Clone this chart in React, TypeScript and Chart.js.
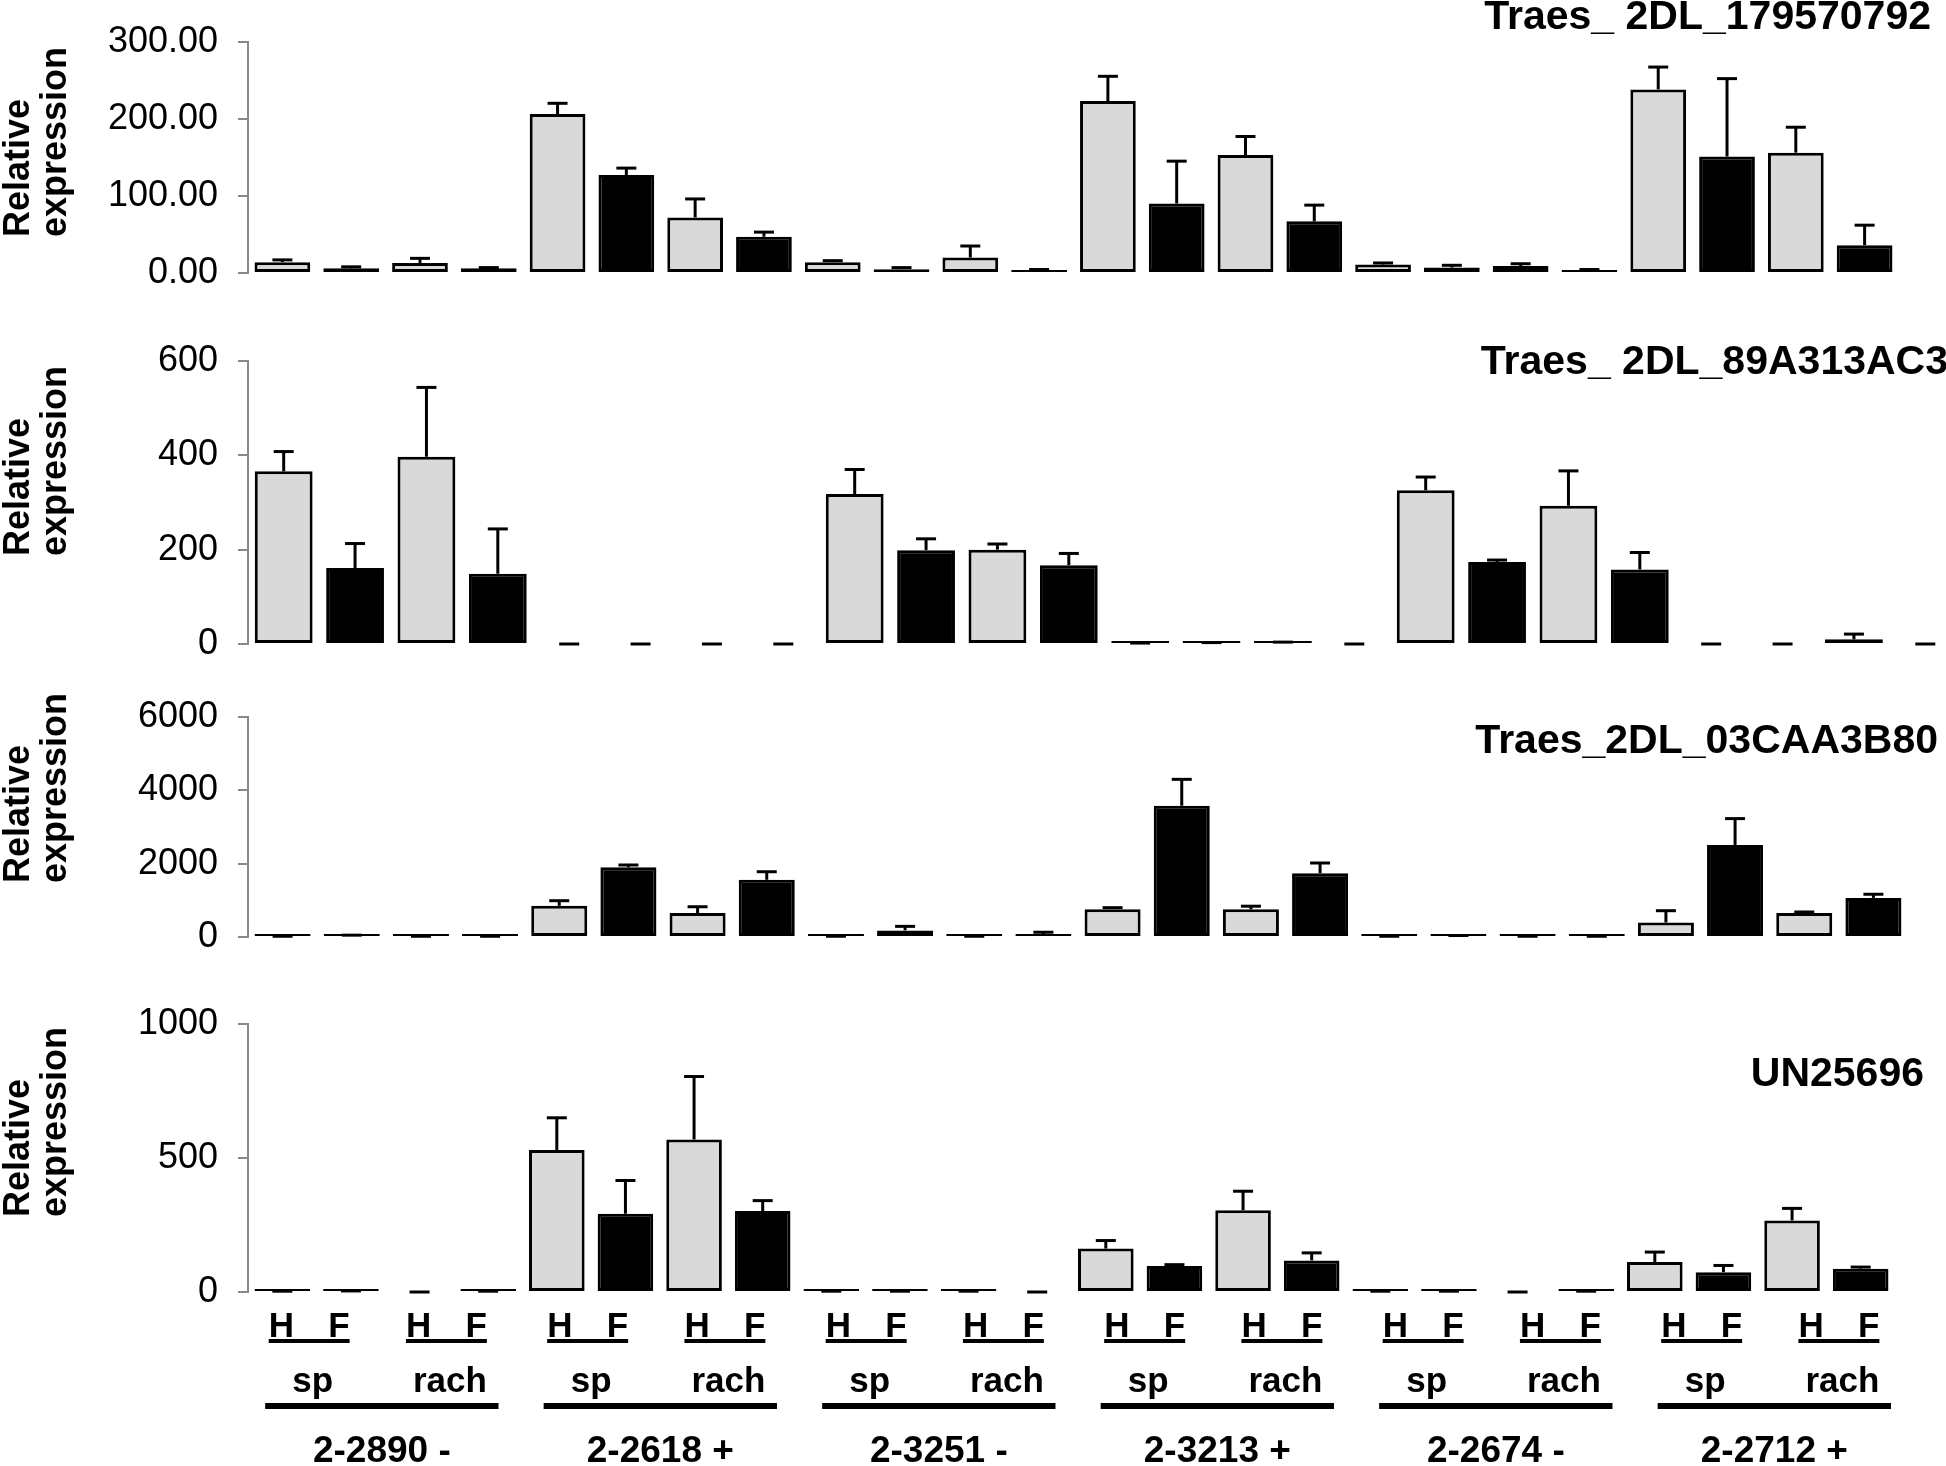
import React, { useEffect, useRef } from "react";
import { Chart, registerables } from "chart.js";

Chart.register(...registerables);

// ---------- data ----------
const samples = ["2-2890 -", "2-2618 +", "2-3251 -", "2-3213 +", "2-2674 -", "2-2712 +"];
const tissues = ["sp", "rach"];
const conditions = ["H", "F"];
const categories = samples.flatMap((s) => tissues.flatMap((t) => conditions.map((c) => `${s} ${t} ${c}`)));

const gene1Title = "Traes_ 2DL_179570792";
const gene1Mean = [14, 6, 13, 6, 206, 127, 72, 47, 14, 5, 20, 3, 223, 90, 153, 67, 11, 7, 9, 4, 238, 151, 156, 36];
const gene1Sd = [3, 2, 6, 1, 14, 9, 24, 6, 2, 2, 15, 1.5, 32, 55, 24, 21, 2, 3, 3, 0.5, 29, 101, 33, 26];
const gene1Ticks = [0, 100, 200, 300];

const gene2Title = "Traes_ 2DL_89A313AC3";
const gene2Mean = [366, 161, 397, 149, 0, 0, 0, 0, 318, 199, 200, 167, 2, 2, 3, 0, 326, 174, 293, 158, 0, 0, 10, 0];
const gene2Sd = [42, 52, 147, 95, 0, 0, 0, 0, 52, 24, 12, 25, 0, 1, 1, 0, 28, 4, 74, 36, 0, 0, 11, 0];
const gene2Ticks = [0, 200, 400, 600];

const gene3Title = "Traes_2DL_03CAA3B80";
const gene3Mean = [20, 40, 20, 20, 850, 1900, 655, 1560, 20, 180, 20, 80, 760, 3580, 755, 1740, 20, 30, 20, 20, 395, 2510, 655, 1067];
const gene3Sd = [0, 10, 0, 0, 140, 64, 170, 220, 0, 110, 0, 50, 40, 720, 85, 278, 0, 10, 0, 0, 322, 719, 27, 99];
const gene3Ticks = [0, 2000, 4000, 6000];

const gene4Title = "UN25696";
const gene4Mean = [3, 3, 0, 3, 530, 292, 569, 302, 3, 3, 3, 0, 162, 97, 305, 118, 3, 3, 0, 3, 112, 74, 267, 87];
const gene4Sd = [0, 1, 0, 0, 120, 124, 235, 39, 0, 0, 0, 0, 30, 5, 71, 28, 0, 0, 0, 0, 37, 25, 45, 6];
const gene4Ticks = [0, 500, 1000];

const yTitleLines = ["Relative", "expression"];

// ---------- style / layout ----------
const PAGE_W = 1946;
const PAGE_H = 1466;
const LIGHT = "#d9d9d9";
const DARK = "#000000";
const AXIS = "#888888";
const FONT = "'Liberation Sans', Arial, sans-serif";

type PanelCfg = {
  title: string;
  mean: number[];
  sd: number[];
  ticks: number[];
  decimals: number;
  top: number;
  bottom: number;
  right: number;
  width: number;
  titleX: number;
  titleY: number;
  yTitleBottom: number;
  showX: boolean;
};

const panels: PanelCfg[] = [
  { title: gene1Title, mean: gene1Mean, sd: gene1Sd, ticks: gene1Ticks, decimals: 2, top: 38, bottom: 273, right: 1899, width: PAGE_W, titleX: 1931, titleY: 29, yTitleBottom: 237, showX: false },
  { title: gene2Title, mean: gene2Mean, sd: gene2Sd, ticks: gene2Ticks, decimals: 0, top: 361, bottom: 644, right: 1961, width: 1961, titleX: 1948, titleY: 374, yTitleBottom: 556, showX: false },
  { title: gene3Title, mean: gene3Mean, sd: gene3Sd, ticks: gene3Ticks, decimals: 0, top: 717, bottom: 937, right: 1908, width: PAGE_W, titleX: 1938, titleY: 753, yTitleBottom: 883, showX: false },
  { title: gene4Title, mean: gene4Mean, sd: gene4Sd, ticks: gene4Ticks, decimals: 0, top: 1024, bottom: 1292, right: 1895, width: PAGE_W, titleX: 1924, titleY: 1086, yTitleBottom: 1217, showX: true },
];

function makeErrorBars(cfg: PanelCfg) {
  return {
    id: "errorBars",
    afterDatasetsDraw(chart: any) {
      const ctx = chart.ctx;
      const xs = chart.scales.x;
      const ys = chart.scales.y;
      ctx.save();
      ctx.strokeStyle = "#000";
      ctx.lineWidth = 3;
      ctx.lineCap = "butt";
      cfg.mean.forEach((m, i) => {
        const x = xs.getPixelForValue(i);
        const y0 = ys.getPixelForValue(m);
        const y1 = ys.getPixelForValue(m + cfg.sd[i]);
        if (cfg.sd[i] > 0) {
          ctx.beginPath();
          ctx.moveTo(x, y0);
          ctx.lineTo(x, y1);
          ctx.stroke();
        }
        ctx.beginPath();
        ctx.moveTo(x - 10, y1);
        ctx.lineTo(x + 10, y1);
        ctx.stroke();
      });
      ctx.restore();
    },
  };
}

function makeTexts(cfg: PanelCfg) {
  return {
    id: "panelTexts",
    afterDraw(chart: any) {
      const ctx = chart.ctx;
      ctx.save();
      ctx.fillStyle = "#000";
      ctx.font = `bold 41px ${FONT}`;
      ctx.textAlign = "right";
      ctx.textBaseline = "alphabetic";
      ctx.fillText(cfg.title, cfg.titleX, cfg.titleY);

      ctx.font = `bold 36px ${FONT}`;
      ctx.textAlign = "left";
      const xs = [29, 66];
      yTitleLines.forEach((line, k) => {
        ctx.save();
        ctx.translate(xs[k], cfg.yTitleBottom);
        ctx.rotate(-Math.PI / 2);
        ctx.fillText(line, 0, 0);
        ctx.restore();
      });

      if (cfg.showX) {
        const xsc = chart.scales.x;
        const px = (i: number) => xsc.getPixelForValue(i);
        const slot = px(1) - px(0);
        ctx.textAlign = "center";
        samples.forEach((s, g) => {
          const drift = g * 4;
          tissues.forEach((t, k) => {
            const a = g * 4 + k * 2;
            const xa = px(a) - 1 + drift;
            const xb = px(a + 1) - 12 + drift;
            ctx.font = `bold 35px ${FONT}`;
            ctx.fillText(conditions[0], xa, 1337);
            ctx.fillText(conditions[1], xb, 1337);
            const wH = ctx.measureText(conditions[0]).width;
            const wF = ctx.measureText(conditions[1]).width;
            ctx.fillRect(xa - wH / 2, 1339, xb + wF / 2 - (xa - wH / 2), 4);
            ctx.font = `bold 35px ${FONT}`;
            ctx.fillText(t, (px(a) + px(a + 1)) / 2 - 4 + drift, 1392);
          });
          const x0 = px(g * 4) - 0.25 * slot + drift;
          const x1 = px(g * 4 + 3) + 0.15 * slot + drift;
          ctx.fillRect(x0, 1403, x1 - x0, 6);
          ctx.font = `bold 37px ${FONT}`;
          ctx.fillText(s, (x0 + x1) / 2, 1462);
        });
      }
      ctx.restore();
    },
  };
}

function Panel({ cfg }: { cfg: PanelCfg }) {
  const ref = useRef<HTMLCanvasElement>(null);
  useEffect(() => {
    const canvas = ref.current!;
    const maxV = cfg.ticks[cfg.ticks.length - 1];
    const step = cfg.ticks[1] - cfg.ticks[0];
    const chart = new Chart(canvas, {
      type: "bar",
      data: {
        labels: categories,
        datasets: [
          {
            data: cfg.mean.map((v) => (v === 0 ? null : v)),
            backgroundColor: categories.map((_, i) => (i % 2 === 0 ? LIGHT : DARK)),
            borderColor: "#000",
            borderWidth: 3,
            borderSkipped: false,
            barPercentage: 0.81,
            categoryPercentage: 1,
            minBarLength: 3,
          } as any,
        ],
      },
      options: {
        responsive: false,
        animation: false,
        events: [],
        devicePixelRatio: 1,
        layout: { padding: { top: cfg.top, bottom: PAGE_H - cfg.bottom, left: 0, right: cfg.width - cfg.right } },
        plugins: { legend: { display: false }, tooltip: { enabled: false }, title: { display: false } },
        scales: {
          x: { display: false },
          y: {
            min: 0,
            max: maxV,
            afterFit: (s: any) => {
              s.width = 248;
            },
            afterBuildTicks: (s: any) => {
              s.ticks = cfg.ticks.map((v) => ({ value: v }));
            },
            ticks: {
              stepSize: step,
              callback: (v: any) => Number(v).toFixed(cfg.decimals),
              font: { family: FONT, size: 36 },
              color: "#000",
              padding: 20,
            },
            grid: { drawOnChartArea: false, drawTicks: true, tickLength: 10, color: AXIS, lineWidth: 2 },
            border: { display: true, color: AXIS, width: 2 },
          },
        },
      } as any,
      plugins: [makeErrorBars(cfg), makeTexts(cfg)],
    });
    return () => chart.destroy();
  }, []);
  return (
    <canvas
      ref={ref}
      width={cfg.width}
      height={PAGE_H}
      style={{ position: "absolute", left: 0, top: 0, width: cfg.width, height: PAGE_H }}
    />
  );
}

export default function App() {
  return (
    <div
      style={{
        position: "absolute",
        left: 0,
        top: 0,
        width: PAGE_W,
        height: PAGE_H,
        overflow: "hidden",
        background: "#fff",
      }}
    >
      {panels.map((p, i) => (
        <Panel key={i} cfg={p} />
      ))}
    </div>
  );
}
